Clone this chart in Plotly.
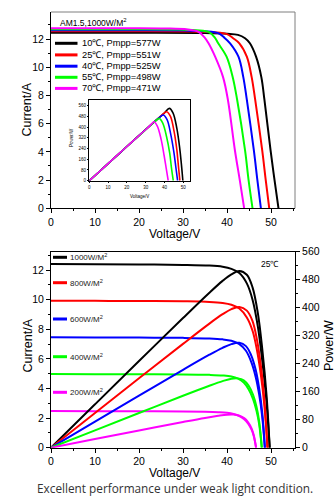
import plotly.graph_objects as go

W, H = 336, 497
FONT = "Arial, Liberation Sans, sans-serif"

# ---------------- Data: top chart (I-V at different temperatures) ----------------
temp_labels = ["10℃, Pmpp=577W", "25℃, Pmpp=551W", "40℃, Pmpp=525W",
               "55℃, Pmpp=498W", "70℃, Pmpp=471W"]
colors = ["#000000", "#ff0000", "#0000ff", "#00ff00", "#ff00ff"]

iv_v_10 = [0, 20, 35, 40, 42.5, 44.1, 45.2, 46.6, 47.8, 48.5, 49.9, 50.8, 51.7]
iv_i_10 = [12.45, 12.45, 12.43, 12.38, 12.3, 12.06, 11.7, 10.75, 9.3, 7.7, 4.1, 2.0, 0]
iv_v_25 = [0, 20, 32, 37, 40, 41.4, 42.8, 44.5, 45.6, 46.4, 48.0, 48.8, 49.6]
iv_i_25 = [12.55, 12.55, 12.53, 12.48, 12.35, 12.06, 11.7, 10.75, 9.3, 7.7, 4.1, 2.0, 0]
iv_v_40 = [0, 20, 30, 35, 38, 39.4, 40.7, 42.6, 43.7, 44.5, 46.1, 46.9, 47.7]
iv_i_40 = [12.62, 12.62, 12.6, 12.55, 12.42, 12.1, 11.7, 10.75, 9.3, 7.7, 4.1, 2.0, 0]
iv_v_55 = [0, 20, 28, 33, 36, 37.2, 38.0, 39.9, 41.3, 42.3, 44.1, 44.9, 45.8]
iv_i_55 = [12.7, 12.7, 12.68, 12.62, 12.48, 12.12, 11.7, 10.75, 9.3, 7.7, 4.1, 2.0, 0]
iv_v_70 = [0, 18, 26, 31, 33.5, 34.8, 35.8, 37.3, 39.1, 40.2, 41.8, 42.9, 43.9]
iv_i_70 = [12.77, 12.77, 12.75, 12.68, 12.52, 12.15, 11.7, 10.75, 9.3, 7.7, 4.1, 2.0, 0]

# Inset: P-V at different temperatures
pv_v_10 = [0, 10, 20, 30, 36, 40, 42.6, 44.6, 46.6, 48.1, 49.0, 49.8]
pv_p_10 = [0, 128, 255, 382, 456, 505, 540, 505, 390, 245, 125, 0]
pv_v_25 = [0, 10, 20, 30, 35, 38.5, 41.2, 43.2, 45.1, 46.6, 47.4, 48.2]
pv_p_25 = [0, 128, 255, 382, 445, 488, 515, 480, 370, 230, 115, 0]
pv_v_40 = [0, 10, 20, 30, 34, 37, 39.4, 41.4, 43.3, 45.0, 46.0, 47.0]
pv_p_40 = [0, 128, 255, 382, 432, 468, 490, 455, 350, 215, 108, 0]
pv_v_55 = [0, 10, 20, 30, 33, 35.3, 37.2, 39.1, 41.1, 42.8, 43.7, 44.7]
pv_p_55 = [0, 128, 255, 380, 418, 446, 465, 430, 330, 205, 100, 0]
pv_v_70 = [0, 10, 20, 28, 31, 33, 34.4, 36.2, 38.2, 39.8, 40.9, 42.0]
pv_p_70 = [0, 128, 255, 356, 393, 422, 440, 408, 310, 190, 95, 0]

# ---------------- Data: bottom chart (I-V and P-V at different irradiance, 25℃) ----------------
irr_labels = ["1000W/M<sup>2</sup>", "800W/M<sup>2</sup>", "600W/M<sup>2</sup>",
              "400W/M<sup>2</sup>", "200W/M<sup>2</sup>"]
b_v_1000 = [0, 10, 20, 30, 36, 39, 41, 42.8, 44.5, 45.8, 47, 48, 49, 49.7]
b_i_1000 = [12.41, 12.40, 12.38, 12.35, 12.3, 12.22, 12.08, 11.8, 11.1, 10.0, 8.2, 5.9, 3.0, 0]
b_p_1000 = [0, 124, 247.6, 370.5, 442.8, 476.6, 495.3, 505, 494, 458, 385, 283, 147, 0]
b_v_800 = [0, 10, 20, 30, 36, 39, 41, 42.8, 44.5, 45.8, 46.8, 47.7, 48.5, 49.2]
b_i_800 = [9.93, 9.92, 9.91, 9.89, 9.85, 9.78, 9.66, 9.4, 8.8, 7.9, 6.6, 4.9, 2.8, 0]
b_p_800 = [0, 99.2, 198.2, 296.7, 354.6, 381.4, 396.1, 402.3, 391.6, 361.8, 308.9, 233.7, 135.8, 0]
b_v_600 = [0, 10, 20, 30, 36, 39, 41, 42.8, 44.3, 45.5, 46.5, 47.3, 48, 48.6]
b_i_600 = [7.46, 7.45, 7.44, 7.42, 7.38, 7.32, 7.22, 7.0, 6.55, 5.8, 4.8, 3.6, 2.1, 0]
b_p_600 = [0, 74.5, 148.8, 222.6, 265.7, 285.5, 296.0, 299.6, 290.2, 263.9, 223.2, 170.3, 100.8, 0]
b_v_400 = [0, 10, 20, 30, 36, 39, 41, 42.5, 43.8, 44.9, 45.9, 46.7, 47.3, 47.9]
b_i_400 = [4.98, 4.97, 4.96, 4.95, 4.92, 4.88, 4.81, 4.66, 4.4, 3.95, 3.3, 2.5, 1.6, 0]
b_p_400 = [0, 49.7, 99.2, 148.5, 177.1, 190.3, 197.2, 198.1, 192.7, 177.4, 151.5, 116.8, 75.7, 0]
b_v_200 = [0, 10, 20, 30, 35, 38, 40, 41.5, 42.8, 43.9, 44.8, 45.6, 46.1, 46.6]
b_i_200 = [2.48, 2.47, 2.46, 2.45, 2.43, 2.4, 2.36, 2.28, 2.14, 1.93, 1.62, 1.2, 0.75, 0]
b_p_200 = [0, 24.7, 49.2, 73.5, 85.1, 91.2, 94.4, 94.6, 91.6, 84.7, 72.6, 54.7, 34.6, 0]

x_ticks = [0, 10, 20, 30, 40, 50]
i_ticks = [0, 2, 4, 6, 8, 10, 12]
p_ticks = [0, 80, 160, 240, 320, 400, 480, 560]

top_iv = [(iv_v_10, iv_i_10), (iv_v_25, iv_i_25), (iv_v_40, iv_i_40), (iv_v_55, iv_i_55), (iv_v_70, iv_i_70)]
top_pv = [(pv_v_10, pv_p_10), (pv_v_25, pv_p_25), (pv_v_40, pv_p_40), (pv_v_55, pv_p_55), (pv_v_70, pv_p_70)]
bot = [(b_v_1000, b_i_1000, b_p_1000), (b_v_800, b_i_800, b_p_800), (b_v_600, b_i_600, b_p_600),
       (b_v_400, b_i_400, b_p_400), (b_v_200, b_i_200, b_p_200)]


def px(x):
    return x / W


def py(y):
    return 1 - y / H


fig = go.Figure()

for (v, i), c, lab in zip(top_iv, colors, temp_labels):
    fig.add_trace(go.Scatter(x=v, y=i, mode="lines", name=lab, line=dict(color=c, width=2, shape="spline"),
                             xaxis="x", yaxis="y", showlegend=False))
for (v, p), c, lab in zip(top_pv, colors, temp_labels):
    fig.add_trace(go.Scatter(x=v, y=p, mode="lines", name=lab, line=dict(color=c, width=1.6, shape="spline"),
                             xaxis="x2", yaxis="y2", showlegend=False))
for (v, i, p), c, lab in zip(bot, colors, irr_labels):
    fig.add_trace(go.Scatter(x=v, y=i, mode="lines", name=lab, line=dict(color=c, width=2, shape="spline"),
                             xaxis="x3", yaxis="y3", showlegend=False))
    fig.add_trace(go.Scatter(x=v, y=p, mode="lines", name=lab, line=dict(color=c, width=2, shape="spline"),
                             xaxis="x3", yaxis="y4", showlegend=False))

tickfont = dict(family=FONT, size=10.5, color="#000")
small_font = dict(family=FONT, size=4.5, color="#000")

common = dict(showline=True, linecolor="#000", linewidth=1, ticks="outside", ticklen=4, tickwidth=1,
              tickcolor="#000", showgrid=False, zeroline=False, tickfont=tickfont, automargin=False)

fig.update_layout(
    template="none",
    width=W, height=H, margin=dict(l=0, r=0, t=0, b=0, pad=0), autosize=False,
    paper_bgcolor="white", plot_bgcolor="rgba(0,0,0,0)",
    font=dict(family=FONT, color="#000"),
    showlegend=False,
    xaxis=dict(domain=[px(51), px(295)], range=[0, 55.45], anchor="y", tickvals=x_ticks,
               minor=dict(dtick=5, ticklen=2, ticks="outside", tickcolor="#000"), **common),
    yaxis=dict(domain=[py(208.3), py(12)], range=[0, 13.92], anchor="x", tickvals=i_ticks,
               minor=dict(dtick=1, ticklen=2, ticks="outside", tickcolor="#000"), **common),
    xaxis2=dict(domain=[px(89.3), px(190)], range=[0, 53.6], anchor="y2", tickvals=x_ticks,
                showline=True, linecolor="#000", linewidth=1, mirror=True, ticks="outside", ticklen=1.5,
                tickcolor="#000", showgrid=False, zeroline=False, tickfont=small_font, automargin=False),
    yaxis2=dict(domain=[py(180.7), py(99.5)], range=[0, 606], anchor="x2", tickvals=p_ticks,
                showline=True, linecolor="#000", linewidth=1, mirror=True, ticks="outside", ticklen=1.5,
                tickcolor="#000", showgrid=False, zeroline=False, tickfont=small_font, automargin=False),
    xaxis3=dict(domain=[px(51), px(295)], range=[0, 55.45], anchor="y3", tickvals=x_ticks, mirror=True,
                minor=dict(dtick=5, ticklen=2, ticks="outside", tickcolor="#000"), **common),
    yaxis3=dict(domain=[py(447.7), py(251.7)], range=[0, 13.24], anchor="x3", tickvals=i_ticks,
                minor=dict(dtick=1, ticklen=2, ticks="outside", tickcolor="#000"), **common),
    yaxis4=dict(domain=[py(447.7), py(251.7)], range=[0, 560], anchor="x3", overlaying="y3", side="right",
                tickvals=p_ticks, minor=dict(dtick=40, ticklen=2, ticks="outside", tickcolor="#000"), **common),
)

shapes = []
# gray top/right frame of top chart
shapes.append(dict(type="line", xref="paper", yref="paper", x0=px(51), x1=px(295), y0=py(12), y1=py(12),
                   line=dict(color="#7f7f7f", width=1)))
shapes.append(dict(type="line", xref="paper", yref="paper", x0=px(295), x1=px(295), y0=py(12), y1=py(208.3),
                   line=dict(color="#7f7f7f", width=1)))

annotations = []
# top legend
top_leg_y = [43.3, 54.9, 66.2, 77.3, 88.4]
for yy, c, lab in zip(top_leg_y, colors, temp_labels):
    shapes.append(dict(type="line", xref="paper", yref="paper", x0=px(55), x1=px(77.5), y0=py(yy), y1=py(yy),
                       line=dict(color=c, width=3)))
    annotations.append(dict(xref="paper", yref="paper", x=px(80), y=py(yy), text=lab, showarrow=False,
                            xanchor="left", yanchor="middle", font=dict(family=FONT, size=9.3, color="#000")))
# bottom legend
bot_leg_y = [257.3, 282.7, 319.0, 356.7, 392.3]
for yy, c, lab in zip(bot_leg_y, colors, irr_labels):
    shapes.append(dict(type="line", xref="paper", yref="paper", x0=px(53), x1=px(67), y0=py(yy), y1=py(yy),
                       line=dict(color=c, width=3)))
    annotations.append(dict(xref="paper", yref="paper", x=px(67.5), y=py(yy), text=lab, showarrow=False,
                            xanchor="left", yanchor="middle", font=dict(family=FONT, size=8, color="#222")))


def ann(x, y, text, size, angle=0, xanchor="center", color="#000", family=FONT):
    annotations.append(dict(xref="paper", yref="paper", x=px(x), y=py(y), text=text, showarrow=False,
                            xanchor=xanchor, yanchor="middle", textangle=angle,
                            font=dict(family=family, size=size, color=color)))


ann(58, 22.7, "AM1.5,1000W/M<sup>2</sup>", 8.5, xanchor="left")
ann(259, 263.5, "25℃", 8.5, xanchor="left")
# axis titles
ann(174, 233.7, "Voltage/V", 12)
ann(26.5, 110, "Current/A", 12.5, angle=-90)
ann(174, 473, "Voltage/V", 12)
ann(27.5, 346, "Current/A", 12.5, angle=-90)
ann(329, 346, "Power/W", 12.5, angle=-90)
# inset titles
ann(139.5, 196.8, "Voltage/V", 4.5)
ann(71, 138, "Power/W", 4.5, angle=-90)
# caption
ann(174.5, 488, "Excellent performance under weak light condition.", 11.8, color="#333",
    family="Open Sans, DejaVu Sans, sans-serif")

fig.update_layout(shapes=shapes, annotations=annotations)
fig.write_html("out.html", config={"displayModeBar": False, "staticPlot": True},
               post_script="document.body.style.margin='0';document.body.style.padding='0';"
                           "document.body.style.overflow='hidden';")
